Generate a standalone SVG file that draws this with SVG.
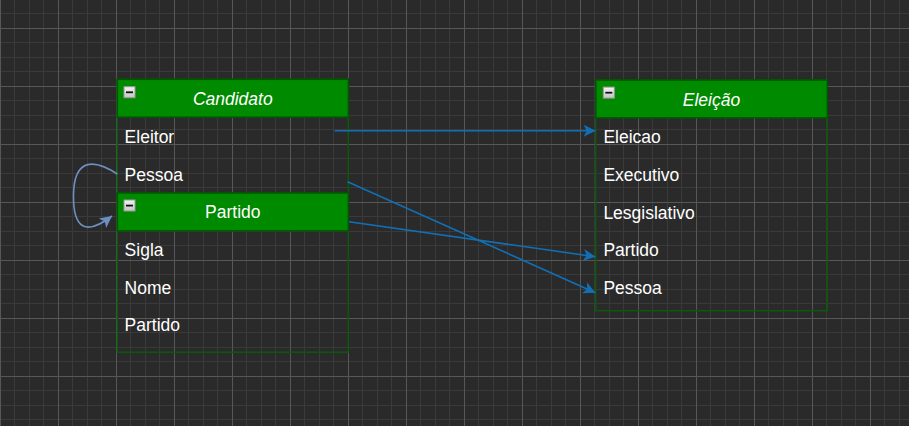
<svg xmlns="http://www.w3.org/2000/svg" width="909" height="426" viewBox="0 0 909 426">
<style>
.hdr{fill:#008a00;stroke:#005700;stroke-width:1.5}
.body{fill:none;stroke:#0b5a0b;stroke-width:1.5}
.t{font-family:"Liberation Sans",Arial,sans-serif;font-size:17.5px;fill:#ffffff}
.ti{font-style:italic}
.e{fill:none;stroke:#1170b5;stroke-width:1.6}
.loop{fill:none;stroke:#6d8fc0;stroke-width:1.6}
</style>
<defs>
<pattern id="grid" patternUnits="userSpaceOnUse" x="0" y="28" width="58" height="58">
<rect width="58" height="58" fill="#2a2a2a"/>
<rect x="14" y="0" width="1" height="58" fill="#3a3a3a"/>
<rect x="29" y="0" width="1" height="58" fill="#3a3a3a"/>
<rect x="43" y="0" width="1" height="58" fill="#3a3a3a"/>
<rect x="0" y="14" width="58" height="1" fill="#3a3a3a"/>
<rect x="0" y="29" width="58" height="1" fill="#3a3a3a"/>
<rect x="0" y="43" width="58" height="1" fill="#3a3a3a"/>
<rect x="0" y="0" width="1" height="58" fill="#575757"/>
<rect x="0" y="0" width="58" height="1" fill="#575757"/>
</pattern>
<linearGradient id="btn" x1="0" y1="0" x2="0" y2="1">
<stop offset="0" stop-color="#f4f4f4"/>
<stop offset="1" stop-color="#c4c4c4"/>
</linearGradient>
<g id="minus">
<rect x="0.5" y="0.5" width="11" height="11" fill="url(#btn)" stroke="#9a9a9a" stroke-width="1"/>
<rect x="2.5" y="5.2" width="7" height="1.8" fill="#111"/>
</g>
<marker id="arr" markerUnits="userSpaceOnUse" markerWidth="13" markerHeight="13" refX="12" refY="6" orient="auto" overflow="visible">
<path d="M12,6 L0,0 L3,6 L0,12 Z" fill="#1170b5"/>
</marker>
<marker id="arrL" markerUnits="userSpaceOnUse" markerWidth="13" markerHeight="13" refX="12" refY="6" orient="auto" overflow="visible">
<path d="M12,6 L0,0 L3,6 L0,12 Z" fill="#6d8fc0"/>
</marker>
</defs>
<rect width="909" height="426" fill="url(#grid)"/>

<g id="candidato">
<rect class="body" x="117.3" y="79.3" width="231" height="120.7"/>
<rect class="hdr" x="117.3" y="79.3" width="231" height="37.9"/>
<use href="#minus" x="123.5" y="86.2"/>
<text class="t ti" x="232.8" y="105" text-anchor="middle">Candidato</text>
<text class="t" x="124.6" y="143.3">Eleitor</text>
<text class="t" x="124.6" y="181">Pessoa</text>
</g>

<g id="partido">
<rect class="body" x="117.3" y="193" width="231" height="159.2"/>
<rect class="hdr" x="117.3" y="193" width="231" height="37.9"/>
<use href="#minus" x="123.5" y="199.5"/>
<text class="t" x="232.8" y="218" text-anchor="middle">Partido</text>
<text class="t" x="124.6" y="256">Sigla</text>
<text class="t" x="124.6" y="293.5">Nome</text>
<text class="t" x="124.6" y="331">Partido</text>
</g>

<g id="eleicao">
<rect class="body" x="595.8" y="80" width="231.5" height="230.7"/>
<rect class="hdr" x="595.8" y="80" width="231.5" height="37.9"/>
<use href="#minus" x="602.8" y="86.6"/>
<text class="t ti" x="711.5" y="105.5" text-anchor="middle">Eleição</text>
<text class="t" x="603.4" y="143.3">Eleicao</text>
<text class="t" x="603.4" y="181">Executivo</text>
<text class="t" x="603.4" y="218.5">Lesgislativo</text>
<text class="t" x="603.4" y="256">Partido</text>
<text class="t" x="603.4" y="293.5">Pessoa</text>
</g>

<g id="connectors">
<path class="e" d="M334.7,130.7 L595.6,130.7" marker-end="url(#arr)"/>
<path class="e" d="M347.5,181.7 L595.4,292.7" marker-end="url(#arr)"/>
<path class="e" d="M349,221.7 L595.4,256.7" marker-end="url(#arr)"/>
<path class="loop" d="M117.3,174 C96,160 74,156 73.5,195 C73,229 86,236 112,216" marker-end="url(#arrL)"/>
</g>
</svg>
